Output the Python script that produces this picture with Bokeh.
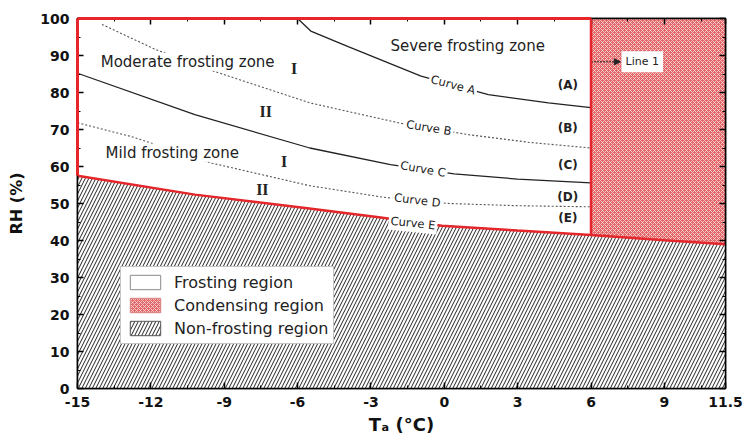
import numpy as np
from bokeh.plotting import figure
from bokeh.models import (FixedTicker, LinearAxis, Label, Arrow, NormalHead,
                          Legend, LegendItem, Range1d, CustomLabelingPolicy)
from bokeh.embed import file_html
from bokeh.resources import INLINE

# ---------------- data ----------------
ta_A = [-6.0, -5.46, -3.93, -0.95, 1.8, 4.26, 6.0]
rh_A = [100.0, 96.6, 92.4, 84.4, 79.4, 77.2, 75.9]

ta_B = [-14.0, -11.8, -9.4, -5.5, -1.8, 1.0, 3.5, 6.0]
rh_B = [98.4, 91.6, 85.7, 77.2, 71.7, 68.6, 66.5, 65.0]

ta_C = [-15.0, -10.2, -5.5, -2.2, 0.4, 3.0, 6.0]
rh_C = [85.2, 74.0, 65.0, 60.5, 58.0, 56.6, 55.6]

ta_D = [-15.0, -12.8, -9.5, -5.5, -2.5, 0.2, 3.0, 6.0]
rh_D = [71.8, 68.1, 60.9, 54.8, 51.7, 50.0, 49.4, 49.1]

ta_E = [-15.0, -10.2, -5.6, -2.6, -0.1, 3.0, 6.0, 9.0, 11.5]
rh_E = [57.5, 52.4, 48.7, 46.2, 44.0, 42.7, 41.5, 40.1, 39.0]

line1_ta = 6.0
ta_min, ta_max = -15.0, 11.5
rh_min, rh_max = 0.0, 100.0

x_ticks = [-15, -12, -9, -6, -3, 0, 3, 6, 9, 11.5]
x_minor = [-13.5, -10.5, -7.5, -4.5, -1.5, 1.5, 4.5, 7.5, 10.5]
y_ticks = [0, 10, 20, 30, 40, 50, 60, 70, 80, 90, 100]
y_minor = [5, 15, 25, 35, 45, 55, 65, 75, 85, 95]

zone_text = ["Severe frosting zone", "Moderate frosting zone", "Mild frosting zone"]
zone_x = [-2.2, -14.05, -13.85]
zone_y = [92.7, 88.3, 63.7]

roman_text = ["I", "II", "I", "II"]
roman_x = [-6.14, -7.3, -6.55, -7.44]
roman_y = [86.6, 74.9, 61.3, 53.7]

tag_text = ["(A)", "(B)", "(C)", "(D)", "(E)"]
tag_x = [5.05, 5.05, 5.05, 5.05, 5.05]
tag_y = [82.1, 70.4, 60.4, 51.8, 46.0]

curve_text = ["Curve A", "Curve B", "Curve C", "Curve D", "Curve E"]
curve_lx = [0.36, -0.63, -0.87, -1.1, -1.28]
curve_ly = [82.1, 70.5, 59.3, 50.9, 44.7]
curve_ang = [-15, -9, -10, -7, -6]

line1_label_x = 7.25
line1_label_y = 88.3

FONT = "DejaVu Sans"

# ---------------- figure ----------------
p = figure(width=746, height=448, output_backend="svg", toolbar_location=None,
           x_range=Range1d(ta_min, ta_max), y_range=Range1d(rh_min, rh_max),
           min_border_left=77, min_border_right=20, min_border_top=18,
           min_border_bottom=60)
p.background_fill_color = "white"
p.border_fill_color = "white"
p.xgrid.visible = False
p.ygrid.visible = False
p.outline_line_color = "black"
p.outline_line_width = 1.5

# regions
E_ta = np.array(ta_E)
E_rh = np.array(rh_E)
mask_f = E_ta <= line1_ta
mask_c = E_ta >= line1_ta

# frosting region polygon
fx = [ta_min] + list(E_ta[mask_f]) + [line1_ta, ta_min]
fy = [rh_max] + list(E_rh[mask_f]) + [rh_max, rh_max]
r_frost = p.patch(fx, fy, fill_color="white", line_color="#8a8a8a", line_width=1)

# condensing region polygon
cx = list(E_ta[mask_c]) + [ta_max, line1_ta]
cy = list(E_rh[mask_c]) + [rh_max, rh_max]
r_cond = p.patch(cx, cy, fill_color="#e26668", line_color="#d88080", line_width=1,
                 hatch_pattern="x", hatch_color="#fbe3e3", hatch_scale=4,
                 hatch_weight=1, hatch_alpha=0.75)

# non-frosting region polygon
nx = [ta_min] + list(E_ta) + [ta_max]
ny = [rh_min] + list(E_rh) + [rh_min]
r_non = p.patch(nx, ny, fill_color="white", line_color="#555555", line_width=1,
                hatch_pattern="/", hatch_color="#222222", hatch_scale=7,
                hatch_weight=1)

# curves
p.line(ta_A, rh_A, line_color="#222222", line_width=1.3)
p.line(ta_B, rh_B, line_color="#555555", line_width=1.1, line_dash="2 2")
p.line(ta_C, rh_C, line_color="#222222", line_width=1.3)
p.line(ta_D, rh_D, line_color="#555555", line_width=1.1, line_dash="2 2")

# red boundary
RED = "#e5262b"
p.line(ta_E, rh_E, line_color=RED, line_width=2.5)
p.line([ta_min, line1_ta], [rh_max, rh_max], line_color=RED, line_width=3, level="overlay")
p.line([ta_min, ta_min], [rh_E[0], rh_max], line_color=RED, line_width=3, level="overlay")
p.line([line1_ta, line1_ta], [E_rh[E_ta == line1_ta][0], rh_max], line_color=RED,
       line_width=2.5, level="overlay")

# ---------------- axes ----------------
hide_all = CustomLabelingPolicy(code="""
for (const i of indices) indices.unset(i)
return indices
""")

def style_axis(ax, show_labels):
    ax.axis_line_color = "black"
    ax.axis_line_width = 1.5
    ax.major_tick_in = 6
    ax.major_tick_out = 0
    ax.minor_tick_in = 3
    ax.minor_tick_out = 0
    ax.major_tick_line_width = 1.5
    ax.minor_tick_line_width = 1
    ax.major_tick_line_color = "black"
    ax.minor_tick_line_color = "black"
    if show_labels:
        ax.major_label_text_font = FONT
        ax.major_label_text_font_style = "bold"
        ax.major_label_text_font_size = "14px"
        ax.major_label_text_color = "#111111"
        ax.axis_label_text_font = FONT
        ax.axis_label_text_font_style = "bold"
        ax.axis_label_text_color = "#111111"
    else:
        ax.major_label_policy = hide_all
        ax.major_label_standoff = 0

xt = FixedTicker(ticks=x_ticks, minor_ticks=x_minor)
yt = FixedTicker(ticks=y_ticks, minor_ticks=y_minor)

p.xaxis.ticker = xt
p.yaxis.ticker = yt
p.xaxis.axis_label = "Tₐ (°C)"
p.yaxis.axis_label = "RH (%)"
style_axis(p.xaxis[0], True)
style_axis(p.yaxis[0], True)
p.xaxis.axis_label_text_font_size = "18px"
p.yaxis.axis_label_text_font_size = "16px"
p.xaxis.major_label_overrides = {t: f"{t:g}" for t in x_ticks}
p.yaxis.major_label_overrides = {t: f"{t:g}" for t in y_ticks}
p.xaxis.major_label_standoff = 8
p.yaxis.major_label_standoff = 8
p.xaxis.axis_label_standoff = 4
p.yaxis.axis_label_standoff = 11

top_ax = LinearAxis(ticker=FixedTicker(ticks=x_ticks, minor_ticks=x_minor))
style_axis(top_ax, False)
p.add_layout(top_ax, "above")
right_ax = LinearAxis(ticker=FixedTicker(ticks=y_ticks, minor_ticks=y_minor))
style_axis(right_ax, False)
p.add_layout(right_ax, "right")

# ---------------- text annotations ----------------
for t, x, y in zip(zone_text, zone_x, zone_y):
    p.add_layout(Label(x=x, y=y, text=t, text_font=FONT, text_font_size="15px",
                       text_color="#222222", text_align="left", text_baseline="middle",
                       background_fill_color="white"))

for t, x, y in zip(roman_text, roman_x, roman_y):
    p.add_layout(Label(x=x, y=y, text=t, text_font="Liberation Serif",
                       text_font_size="16px", text_font_style="bold",
                       text_color="#222222", text_align="center", text_baseline="middle"))

for t, x, y in zip(tag_text, tag_x, tag_y):
    p.add_layout(Label(x=x, y=y, text=t, text_font=FONT, text_font_size="12px",
                       text_font_style="bold", text_color="#222222",
                       text_align="center", text_baseline="middle"))

for t, x, y, a in zip(curve_text, curve_lx, curve_ly, curve_ang):
    p.add_layout(Label(x=x, y=y, text=t, text_font=FONT, text_font_size="11.5px",
                       text_color="#222222", text_align="center", text_baseline="middle",
                       angle=a, angle_units="deg", background_fill_color="white",
                       padding=2))

p.add_layout(Arrow(x_start=line1_ta, y_start=line1_label_y, x_end=line1_label_x - 0.05,
                   y_end=line1_label_y, line_color="#222222", line_width=1,
                   line_dash="2 1",
                   end=NormalHead(size=6, fill_color="#222222", line_color="#222222")))
p.add_layout(Label(x=line1_label_x, y=line1_label_y, text="Line 1", text_font=FONT,
                   text_font_size="11px", text_color="#222222", text_align="left",
                   text_baseline="middle", background_fill_color="white", padding=4))

# ---------------- legend ----------------
legend = Legend(items=[LegendItem(label="Frosting region", renderers=[r_frost]),
                       LegendItem(label="Condensing region", renderers=[r_cond]),
                       LegendItem(label="Non-frosting region", renderers=[r_non])],
                location=(43, 44), label_text_font=FONT, label_text_font_size="16px",
                label_text_color="#222222", glyph_width=38, glyph_height=18,
                label_height=20, spacing=3, padding=5, margin=0, label_standoff=10,
                border_line_color="#8a8a8a", border_line_width=1,
                background_fill_color="white", background_fill_alpha=1.0)
p.add_layout(legend, "center")

open("out.html", "w").write(file_html(p, INLINE))
